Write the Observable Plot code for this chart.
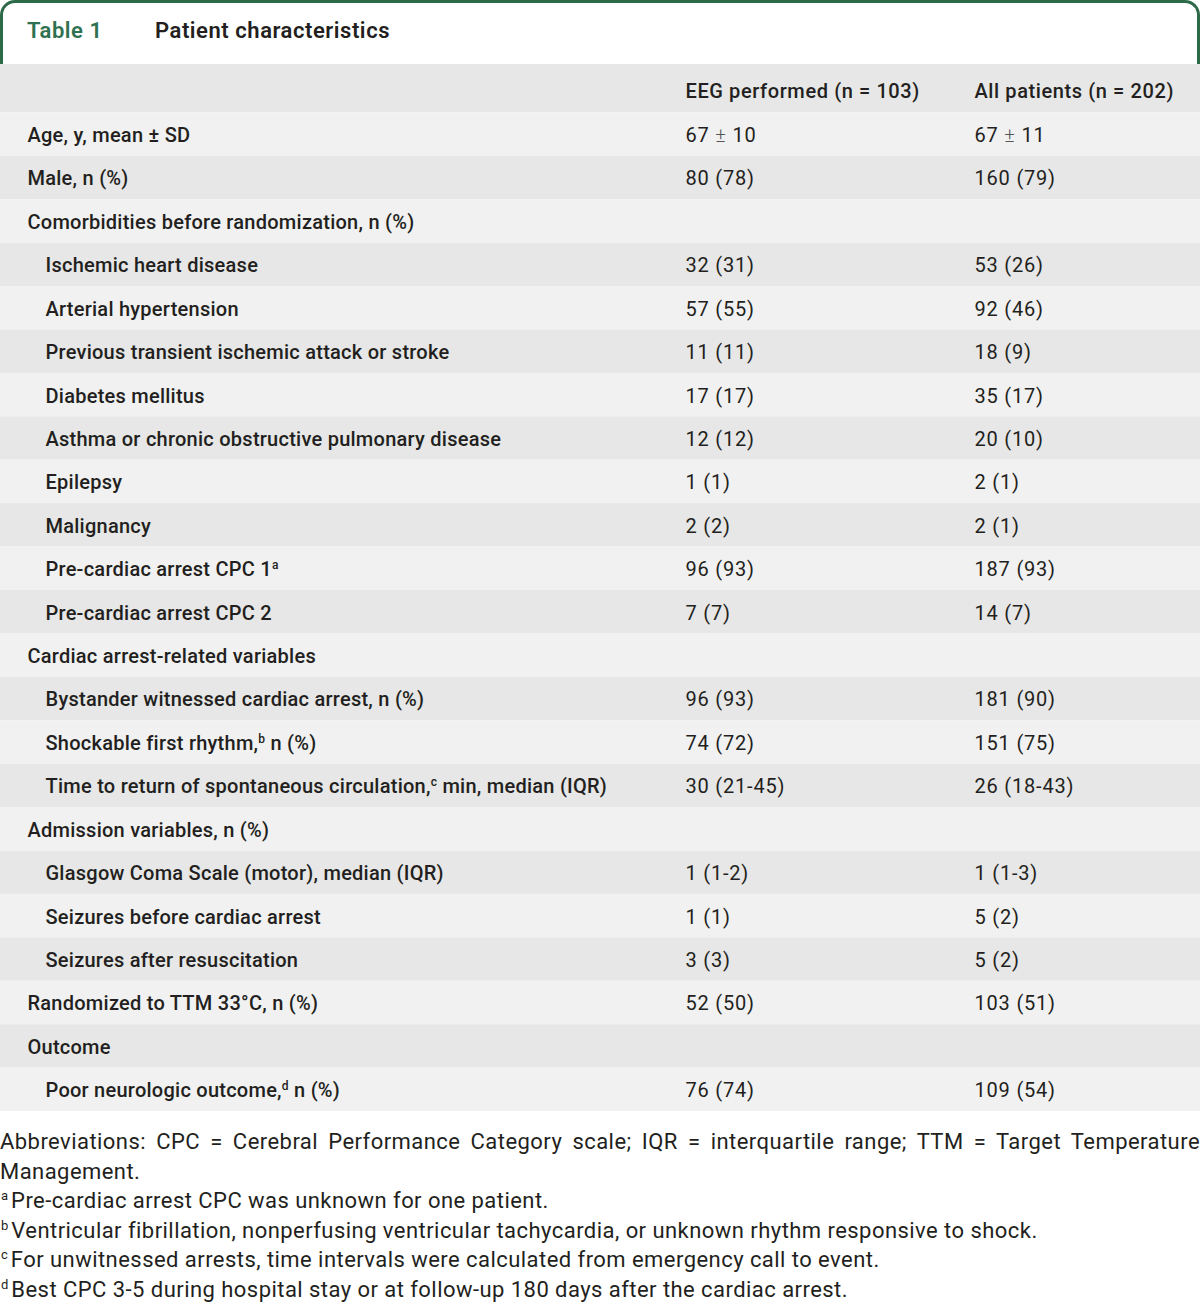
<!DOCTYPE html>
<html>
<head>
<meta charset="utf-8">
<script src="https://cdn.jsdelivr.net/npm/d3@7"></script>
<script src="https://cdn.jsdelivr.net/npm/@observablehq/plot@0.6"></script>
<style>
  html, body { margin: 0; padding: 0; background: #fff; }
  body { width: 1200px; font-family: Roboto, "Noto Sans", sans-serif; color: #231f20; }
  .title {
    box-sizing: border-box; height: 64px; width: 1200px;
    border: 3px solid #2c6a48; border-bottom: none; border-radius: 15px 15px 0 0;
    position: relative;
  }
  .title span { position: absolute; top: 15px; font-size: 22px; font-weight: 600; letter-spacing: 0.55px; }
  .title .num { left: 24px; color: #2f7150; }
  .title .name { left: 152px; color: #231f20; }
  #chart svg { display: block; }
  .notes { font-size: 22px; letter-spacing: 0.45px; line-height: 29.6px; margin-top: 16px; color: #231f20; }
  .notes p { margin: 0; }
  .notes .abbr { text-align: justify; }
  .notes sup { font-size: 13px; vertical-align: 8px; line-height: 0; margin-left: 1px; margin-right: 3px; letter-spacing: 0; }
</style>
</head>
<body>
<div class="title"><span class="num">Table 1</span><span class="name">Patient characteristics</span></div>
<div id="chart"></div>
<div class="notes">
  <p class="abbr">Abbreviations: CPC = Cerebral Performance Category scale; IQR = interquartile range; TTM = Target Temperature Management.</p>
  <p><sup>a</sup>Pre-cardiac arrest CPC was unknown for one patient.</p>
  <p><sup>b</sup>Ventricular fibrillation, nonperfusing ventricular tachycardia, or unknown rhythm responsive to shock.</p>
  <p><sup>c</sup>For unwitnessed arrests, time intervals were calculated from emergency call to event.</p>
  <p><sup>d</sup>Best CPC 3-5 during hospital stay or at follow-up 180 days after the cardiac arrest.</p>
</div>
<script>
// ---- data ----
const columnHeaders = ["", "EEG performed (n = 103)", "All patients (n = 202)"];
const rowLabels = [
  "Age, y, mean ± SD",
  "Male, n (%)",
  "Comorbidities before randomization, n (%)",
  "Ischemic heart disease",
  "Arterial hypertension",
  "Previous transient ischemic attack or stroke",
  "Diabetes mellitus",
  "Asthma or chronic obstructive pulmonary disease",
  "Epilepsy",
  "Malignancy",
  "Pre-cardiac arrest CPC 1{a}",
  "Pre-cardiac arrest CPC 2",
  "Cardiac arrest-related variables",
  "Bystander witnessed cardiac arrest, n (%)",
  "Shockable first rhythm,{b} n (%)",
  "Time to return of spontaneous circulation,{c} min, median (IQR)",
  "Admission variables, n (%)",
  "Glasgow Coma Scale (motor), median (IQR)",
  "Seizures before cardiac arrest",
  "Seizures after resuscitation",
  "Randomized to TTM 33°C, n (%)",
  "Outcome",
  "Poor neurologic outcome,{d} n (%)"
];
const rowLevels = [0,0,0,1,1,1,1,1,1,1,1,1,0,1,1,1,0,1,1,1,0,0,1];
const eegValues = [
  "67 ± 10","80 (78)","","32 (31)","57 (55)","11 (11)","17 (17)","12 (12)","1 (1)","2 (2)",
  "96 (93)","7 (7)","","96 (93)","74 (72)","30 (21-45)","","1 (1-2)","1 (1)","3 (3)",
  "52 (50)","","76 (74)"
];
const allValues = [
  "67 ± 11","160 (79)","","53 (26)","92 (46)","18 (9)","35 (17)","20 (10)","2 (1)","2 (1)",
  "187 (93)","14 (7)","","181 (90)","151 (75)","26 (18-43)","","1 (1-3)","5 (2)","5 (2)",
  "103 (51)","","109 (54)"
];

// ---- layout ----
const W = 1200, H = 1047;
const headerRows = 1.1144;           // header band height in row units
const colStart = [27, 685, 974];     // left edge of each column
const indent = 18;
const bandFill = ["#f1f1f1", "#e6e7e6"];
const ink = "#231f20";

const rows = rowLabels.map((label, i) => ({
  i, label, level: rowLevels[i], eeg: eegValues[i], all: allValues[i]
}));
const header = columnHeaders.map((h, j) => ({j, h}));

const plot = Plot.plot({
  width: W, height: H,
  margin: 0,
  x: {type: "linear", domain: [0, W], range: [0, W], axis: null},
  y: {type: "linear", domain: [-headerRows, rows.length], range: [0, H], axis: null},
  style: {fontFamily: "Roboto, 'Noto Sans', sans-serif", background: "#fff"},
  marks: [
    // header band
    Plot.rect([0], {y1: -headerRows, y2: 0, fill: bandFill[1]}),
    // row bands
    Plot.rect(rows, {y1: d => d.i, y2: d => d.i + 1, fill: d => bandFill[d.i % 2]}),
    // header text
    Plot.text(header.filter(d => d.h), {
      x: d => colStart[d.j], y: -headerRows / 2, dy: 3, text: "h",
      textAnchor: "start", fontSize: 20, fontWeight: 500, fill: ink,
      className: "hdr"
    }),
    // row labels
    Plot.text(rows, {
      x: d => colStart[0] + d.level * indent, y: d => d.i + 0.5, dy: 1, text: "label",
      textAnchor: "start", fontSize: 20, fontWeight: 500, fill: ink,
      className: "lbl"
    }),
    // values
    Plot.text(rows, {
      x: colStart[1], y: d => d.i + 0.5, dy: 1, text: "eeg",
      textAnchor: "start", fontSize: 20, fill: ink, className: "val"
    }),
    Plot.text(rows, {
      x: colStart[2], y: d => d.i + 0.5, dy: 1, text: "all",
      textAnchor: "start", fontSize: 20, fill: ink, className: "val"
    })
  ]
});

const svg = d3.select(plot);
svg.selectAll(".hdr text").attr("letter-spacing", 0.6);
svg.selectAll(".lbl text").attr("letter-spacing", 0.25);
svg.selectAll(".val text").attr("letter-spacing", 0.8);

// superscript footnote markers written as {x}
svg.selectAll("text").each(function() {
  const t = this.textContent;
  const m = t.match(/^(.*)\{(\w)\}(.*)$/);
  if (!m) return;
  const sel = d3.select(this);
  sel.text(null);
  sel.append("tspan").text(m[1]);
  sel.append("tspan").attr("dy", -7).attr("font-size", 12).text(m[2]);
  sel.append("tspan").attr("dy", 7).text(m[3]);
});
// the ± sign is set lighter in the source
svg.selectAll(".val text").each(function() {
  const t = this.textContent;
  if (!t.includes("±")) return;
  const [a, b] = t.split("±");
  const sel = d3.select(this);
  sel.text(null);
  sel.append("tspan").text(a);
  sel.append("tspan").attr("font-weight", 300).attr("fill", "#555").text("±");
  sel.append("tspan").text(b);
});

document.getElementById("chart").append(plot);
</script>
</body>
</html>
